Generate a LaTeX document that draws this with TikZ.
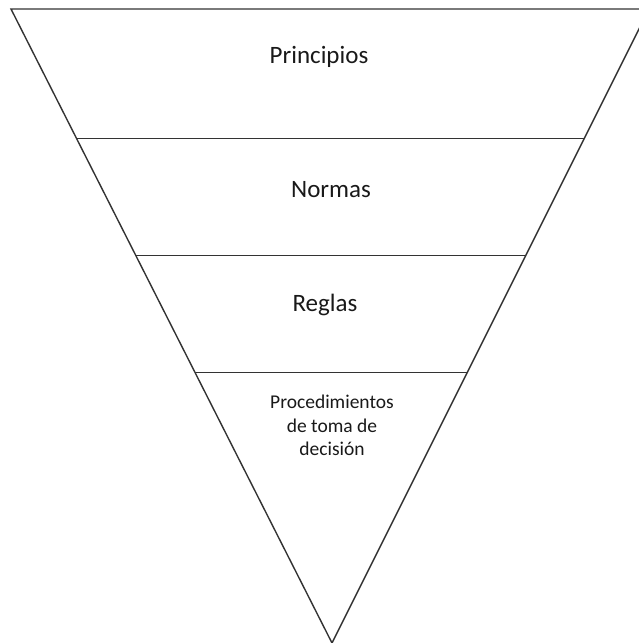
\documentclass[tikz,border=0pt]{standalone}
\usepackage{fontspec}
\setmainfont{Carlito}
\usetikzlibrary{calc}
\begin{document}
\begin{tikzpicture}[x=1pt,y=-1pt,
  edge/.style={draw=black!80,line width=1.4pt,line join=miter},
  level/.style={font=\fontsize{25}{30}\selectfont,text=black!90,anchor=base,inner sep=0pt},
  small/.style={font=\fontsize{19.5}{23.5}\selectfont,text=black!90,align=center,anchor=north,inner sep=0pt}]
  \useasboundingbox (0,0) rectangle (639,643);
  % inverted triangle corners
  \coordinate (tl) at (11,9);
  \coordinate (tr) at (649,9);
  \coordinate (ap) at (332,643);
  \draw[edge] (tl) -- (tr) -- (ap) -- cycle;
  % dividing lines between the levels
  \coordinate (l1) at ($(tl)!0.2046!(ap)$);
  \coordinate (r1) at ($(tr)!0.2046!(ap)$);
  \coordinate (l2) at ($(tl)!0.3886!(ap)$);
  \coordinate (r2) at ($(tr)!0.3886!(ap)$);
  \coordinate (l3) at ($(tl)!0.5735!(ap)$);
  \coordinate (r3) at ($(tr)!0.5735!(ap)$);
  \draw[edge] (l1) -- (r1);
  \draw[edge] (l2) -- (r2);
  \draw[edge] (l3) -- (r3);
  % level labels
  \node[level] (principios) at (319,63) {Principios};
  \node[level] (normas) at (331,197) {Normas};
  \node[level] (reglas) at (325,311) {Reglas};
  \node[small] (proc) at (332,395) {Procedimientos\\de toma de\\decisión};
\end{tikzpicture}
\end{document}
